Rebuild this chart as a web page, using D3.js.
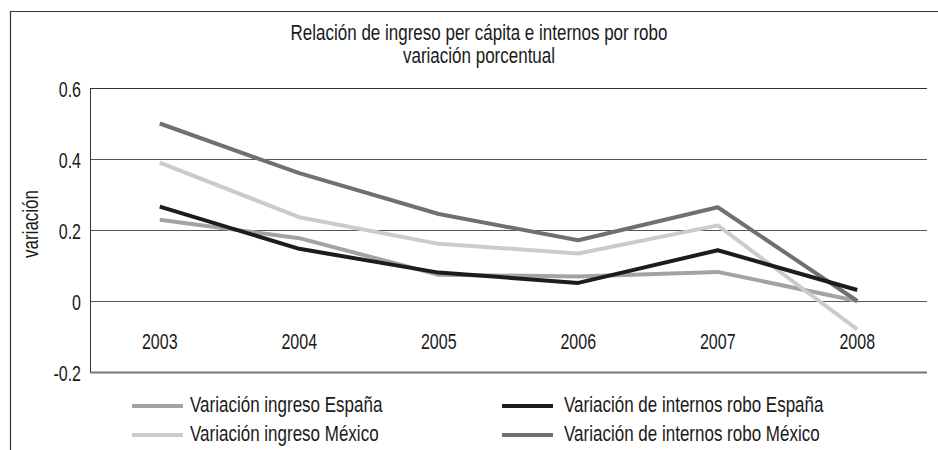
<!DOCTYPE html>
<html>
<head>
<meta charset="utf-8">
<script src="https://cdn.jsdelivr.net/npm/d3@7"></script>
<style>
  body { margin: 0; background: #fff; }
  text { font-family: "Liberation Sans", Arial, sans-serif; fill: #1a1a1a; }
</style>
</head>
<body>
<div id="chart"></div>
<script>
// Data
var years = ["2003", "2004", "2005", "2006", "2007", "2008"];
var ingresoEspana = [0.229, 0.177, 0.074, 0.069, 0.082, 0.0];
var ingresoMexico = [0.39, 0.236, 0.161, 0.134, 0.213, -0.08];
var internosEspana = [0.266, 0.147, 0.08, 0.051, 0.143, 0.031];
var internosMexico = [0.50, 0.36, 0.245, 0.171, 0.264, 0.0];
var yTicks = [-0.2, 0, 0.2, 0.4, 0.6];

var series = [
    {name: "Variación ingreso España", values: ingresoEspana, color: "#a3a3a3"},
    {name: "Variación ingreso México", values: ingresoMexico, color: "#cbcbcb"},
    {name: "Variación de internos robo España", values: internosEspana, color: "#1c1c1c"},
    {name: "Variación de internos robo México", values: internosMexico, color: "#707070"}
];

var svgWidth = 938,
    svgHeight = 450,
    margin = {top: 88, right: 11, bottom: 78, left: 90},
    chartWidth = svgWidth - margin.left - margin.right,
    chartHeight = svgHeight - margin.top - margin.bottom,
    stretch = 1.35; // the source text is drawn tall and narrow

var svg = d3.select("#chart").append("svg")
    .attr("width", svgWidth)
    .attr("height", svgHeight);

// text helper: places a label at (x, y) baseline, stretched vertically
function label(parent, x, y, str, size, anchor, rot) {
    return parent.append("text")
        .attr("transform", `translate(${x}, ${y})` + (rot ? ` rotate(${rot})` : "") + ` scale(1, ${stretch})`)
        .attr("text-anchor", anchor || "start")
        .attr("font-size", size)
        .text(str);
}

// outer frame (only top and left edges show in the crop)
svg.append("path")
    .attr("d", "M10.5,450 V11.5 H938")
    .attr("fill", "none")
    .attr("stroke", "#333")
    .attr("stroke-width", 1.2);

// title
label(svg, 479, 40, "Relación de ingreso per cápita e internos por robo", 17, "middle");
label(svg, 479, 63, "variación porcentual", 17, "middle");

var chartGroup = svg.append("g").attr("transform", `translate(${margin.left}, ${margin.top})`);

var xScale = d3.scalePoint()
    .domain(years)
    .range([0, chartWidth])
    .padding(0.5);

var yScale = d3.scaleLinear()
    .domain([-0.2, 0.6])
    .range([chartHeight, 0]);

// gridlines
chartGroup.append("g")
    .selectAll("line")
    .data(yTicks)
    .enter()
    .append("line")
        .attr("x1", 0)
        .attr("x2", chartWidth)
        .attr("y1", d => Math.round(yScale(d)) + 0.5)
        .attr("y2", d => Math.round(yScale(d)) + 0.5)
        .attr("stroke", d => d === -0.2 ? "#777" : (d === 0.6 ? "#333" : "#555"))
        .attr("stroke-width", d => d === -0.2 ? 2 : 1);

// y axis line and labels
chartGroup.append("line")
    .attr("x1", 0.5).attr("x2", 0.5)
    .attr("y1", 0).attr("y2", chartHeight)
    .attr("stroke", "#333");

var yLabels = chartGroup.append("g");
yTicks.forEach(function(d) {
    label(yLabels, -9, yScale(d) + 8.5, d === 0 ? "0" : d3.format(".1f")(d).replace("−", "-"), 16, "end");
});

// year labels sit below the zero line
var xLabels = chartGroup.append("g");
years.forEach(function(d) {
    label(xLabels, xScale(d), yScale(0) + 48, d, 16, "middle");
});

// y axis title
label(svg, 38, 224, "variación", 17, "middle", -90);

// lines
var line = d3.line()
    .x((d, i) => xScale(years[i]))
    .y(d => yScale(d));

var drawOrder = [series[0], series[1], series[3], series[2]];
chartGroup.append("g")
    .selectAll("path")
    .data(drawOrder)
    .enter()
    .append("path")
        .attr("d", d => line(d.values))
        .attr("fill", "none")
        .attr("stroke", d => d.color)
        .attr("stroke-width", 4)
        .attr("stroke-linejoin", "round");

// legend
var legendPos = [[132, 406, 190], [132, 435, 190], [502, 406, 564], [502, 435, 564]];
var legend = svg.append("g");
series.forEach(function(s, i) {
    var p = legendPos[i];
    legend.append("line")
        .attr("x1", p[0]).attr("x2", p[0] + 51)
        .attr("y1", p[1]).attr("y2", p[1])
        .attr("stroke", s.color)
        .attr("stroke-width", 4);
    label(legend, p[2], p[1] + 6, s.name, 17, "start");
});
</script>
</body>
</html>
